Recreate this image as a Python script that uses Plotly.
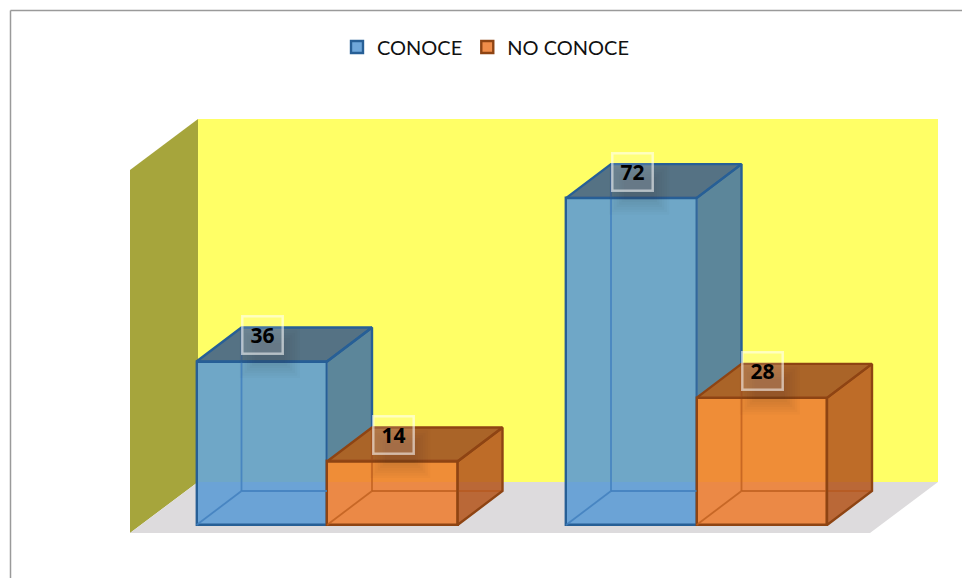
import plotly.graph_objects as go

# Data
group_positions = [0, 1]
series_names = ["CONOCE", "NO CONOCE"]
conoce = [36, 72]
no_conoce = [14, 28]

W, H = 962, 578
PITCH = 369.5      # px per group
UNIT = 4.54        # px per value unit
X0, Y0 = 327, 525  # pixel of group 0 centre / value 0

def X(p): return (p - X0) / PITCH
def Y(p): return (Y0 - p) / UNIT

BAR_W = 130.5 / PITCH
DX = 45 / PITCH
DY = 34 / UNIT

BLUE = dict(front="rgba(91,155,213,0.88)", side="rgba(69,117,162,0.88)", top="rgba(61,95,137,0.88)",
            edge="#275F96", inner="rgba(66,128,190,0.85)")
ORANGE = dict(front="rgba(237,125,49,0.88)", side="rgba(181,88,32,0.88)", top="rgba(158,79,32,0.88)",
              edge="#8E4413", inner="rgba(190,95,30,0.8)")
EDGE_W = 2.4

fig = go.Figure()

def poly(xs, ys, fill, line=None, width=EDGE_W):
    fig.add_trace(go.Scatter(x=xs, y=ys, mode="lines", fill="toself", fillcolor=fill,
                             line=dict(color=line or "rgba(0,0,0,0)", width=width if line else 0),
                             hoverinfo="skip", showlegend=False))

def seg(xs, ys, color, width=1.8):
    fig.add_trace(go.Scatter(x=xs, y=ys, mode="lines", line=dict(color=color, width=width),
                             hoverinfo="skip", showlegend=False))

# Front faces
fig.add_trace(go.Bar(x=group_positions, y=conoce, name=series_names[0], width=BAR_W, offset=-BAR_W,
                     marker=dict(color=BLUE["front"], line=dict(color=BLUE["edge"], width=EDGE_W))))
fig.add_trace(go.Bar(x=group_positions, y=no_conoce, name=series_names[1], width=BAR_W, offset=0,
                     marker=dict(color=ORANGE["front"], line=dict(color=ORANGE["edge"], width=EDGE_W))))

for g, a, b in zip(group_positions, conoce, no_conoce):
    # Blue box: left edge l, right edge r
    l, r = g - BAR_W, g
    seg([l + DX, l + DX, None, l + DX, r, None, l, l + DX],
        [DY, a + DY, None, DY, DY, None, 0, DY], BLUE["inner"])
    # side, hidden where the orange box stands in front of it
    poly([r, r + DX, r + DX, r, r], [a, a + DY, b + DY, b, a], BLUE["side"])
    poly([l, l + DX, r + DX, r, l], [a, a + DY, a + DY, a, a], BLUE["top"], BLUE["edge"])
    seg([r, r + DX, r + DX], [a, a + DY, b + DY], BLUE["edge"], EDGE_W)

    # Orange box
    l, r = g, g + BAR_W
    seg([l + DX, l + DX, None, l + DX, r + DX, None, l, l + DX],
        [DY, b + DY, None, DY, DY, None, 0, DY], ORANGE["inner"])
    poly([r, r + DX, r + DX, r, r], [0, DY, b + DY, b, 0], ORANGE["side"], ORANGE["edge"])
    poly([l, l + DX, r + DX, r, l], [b, b + DY, b + DY, b, b], ORANGE["top"], ORANGE["edge"])

shapes = []
def path(pts): return "M" + "L".join(f"{X(a)},{Y(b)}" for a, b in pts) + "Z"
for pts, col in [
    ([(198, 119), (938, 119), (938, 482), (198, 482)], "#FFFF66"),
    ([(130, 170), (198, 119), (198, 482), (130, 533)], "#A6A53C"),
    ([(130, 533), (198, 482), (938, 482), (870, 533)], "#DDDBDD"),
]:
    shapes.append(dict(type="path", path=path(pts), fillcolor=col, line=dict(width=0), layer="below"))

# Picture frame
FRAME = dict(color="#9A9A9A", width=1.5)
shapes.append(dict(type="line", x0=X(10.5), x1=X(10.5), y0=Y(10.5), y1=Y(H), line=FRAME))
shapes.append(dict(type="line", x0=X(10.5), x1=X(W), y0=Y(10.5), y1=Y(10.5), line=FRAME))

annotations = []
for vals, off in [(conoce, -BAR_W / 2), (no_conoce, BAR_W / 2)]:
    for g, v in zip(group_positions, vals):
        cx = g + off + 1 / PITCH
        cy = v + 26.5 / UNIT
        # soft shadow under the label
        for i in range(7):
            pad = i * 2.5
            shapes.append(dict(type="rect", x0=cx + (-8 - pad) / PITCH, x1=cx + (22 + pad) / PITCH,
                               y0=cy - (28 + pad) / UNIT, y1=cy - (8 - pad) / UNIT,
                               fillcolor="rgba(30,30,30,0.022)", line=dict(width=0), layer="above"))
        annotations.append(dict(x=cx, y=cy, text=f"<b>{v}</b>", showarrow=False,
                                font=dict(family="Open Sans", size=21, color="#000000"),
                                width=38, height=35, align="center", valign="middle",
                                bgcolor="rgba(255,255,255,0.14)", bordercolor="rgba(255,255,255,0.55)",
                                borderwidth=2.5, borderpad=0))

fig.update_layout(
    width=W, height=H, margin=dict(l=0, r=0, t=0, b=0),
    paper_bgcolor="#FFFFFF", plot_bgcolor="#FFFFFF",
    xaxis=dict(range=[X(0), X(W)], visible=False, fixedrange=True),
    yaxis=dict(range=[Y(H), Y(0)], visible=False, fixedrange=True),
    barmode="overlay", bargap=0,
    shapes=shapes, annotations=annotations,
    legend=dict(orientation="h", x=337 / W, xanchor="left", y=1 - 47 / H, yanchor="middle",
                font=dict(family="Lato", size=20, color="#111111"),
                bgcolor="rgba(0,0,0,0)"),
)
fig.write_html("out.html", config=dict(displayModeBar=False),
               post_script="document.body.style.margin='0';document.body.style.overflow='hidden';")
